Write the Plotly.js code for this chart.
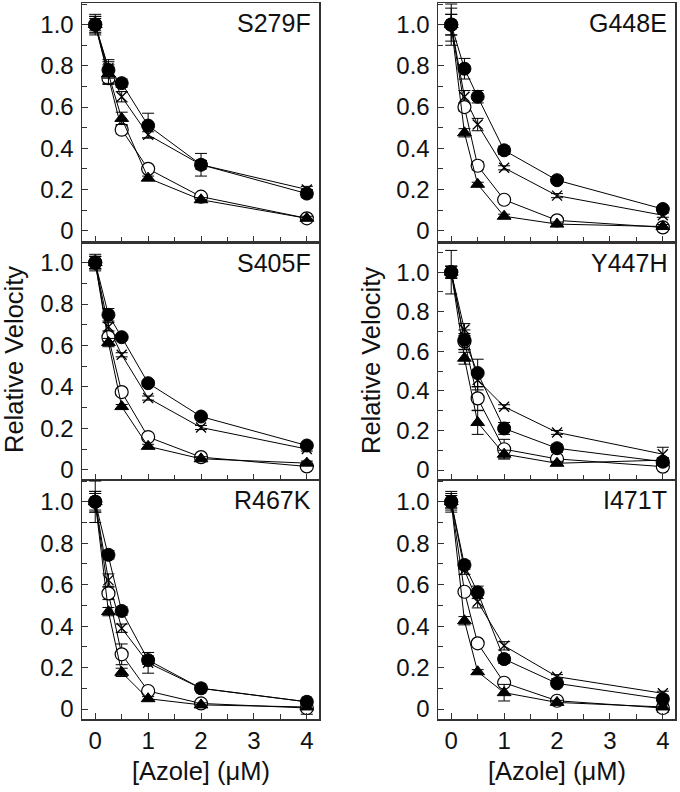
<!DOCTYPE html>
<html>
<head>
<meta charset="utf-8">
<script src="https://cdn.plot.ly/plotly-3.0.1.min.js"></script>
<style>html,body{margin:0;padding:0;background:#fff}#chart{width:680px;height:792px}</style>
</head>
<body>
<div id="chart"></div>
<script>
// Azole concentrations (µM)
const conc = [0, 0.25, 0.5, 1, 2, 4];
const panelNames = ["S279F", "G448E", "S405F", "Y447H", "R467K", "I471T"];
const seriesNames = ["filled circle", "open circle", "filled triangle", "cross"];

// Relative velocity per panel: [filled circle, open circle, filled triangle, cross]
const S279F_vals = [
  [1.0, 0.78, 0.716, 0.51, 0.32, 0.18],
  [1.0, 0.74, 0.49, 0.30, 0.165, 0.06],
  [1.0, 0.76, 0.545, 0.255, 0.15, 0.06],
  [1.0, 0.79, 0.65, 0.465, 0.32, 0.20]
];
const S279F_errs = [
  [0.04, 0.04, 0.02, 0.06, 0.055, 0.02],
  [0.03, 0.03, 0.02, 0.01, 0.01, 0.01],
  [0.04, 0.045, 0.03, 0.01, 0.01, 0.01],
  [0.05, 0.04, 0.025, 0.015, 0.02, 0.015]
];
const G448E_vals = [
  [1.0, 0.786, 0.65, 0.39, 0.245, 0.105],
  [1.0, 0.60, 0.315, 0.15, 0.05, 0.016],
  [1.0, 0.475, 0.225, 0.07, 0.032, 0.02],
  [1.0, 0.65, 0.515, 0.305, 0.17, 0.075]
];
const G448E_errs = [
  [0.05, 0.05, 0.03, 0.02, 0.01, 0.01],
  [0.08, 0.02, 0.02, 0.01, 0.01, 0.01],
  [0.05, 0.02, 0.01, 0.01, 0.01, 0.01],
  [0.1, 0.03, 0.03, 0.01, 0.01, 0.01]
];
const S405F_vals = [
  [1.0, 0.748, 0.64, 0.418, 0.257, 0.117],
  [1.0, 0.64, 0.375, 0.158, 0.061, 0.016],
  [1.0, 0.614, 0.305, 0.113, 0.053, 0.032],
  [1.0, 0.69, 0.555, 0.346, 0.204, 0.10]
];
const S405F_errs = [
  [0.03, 0.03, 0.01, 0.01, 0.01, 0.01],
  [0.03, 0.02, 0.01, 0.01, 0.01, 0.01],
  [0.03, 0.02, 0.01, 0.01, 0.01, 0.01],
  [0.04, 0.02, 0.01, 0.01, 0.01, 0.01]
];
const Y447H_vals = [
  [1.0, 0.658, 0.49, 0.21, 0.11, 0.042],
  [1.0, 0.65, 0.362, 0.105, 0.056, 0.017],
  [1.0, 0.565, 0.24, 0.08, 0.034, 0.05],
  [1.0, 0.71, 0.455, 0.32, 0.19, 0.08]
];
const Y447H_errs = [
  [0.11, 0.05, 0.07, 0.03, 0.02, 0.02],
  [0.03, 0.04, 0.06, 0.05, 0.01, 0.01],
  [0.03, 0.03, 0.06, 0.02, 0.01, 0.01],
  [0.03, 0.03, 0.05, 0.01, 0.01, 0.035]
];
const R467K_vals = [
  [1.0, 0.744, 0.473, 0.236, 0.10, 0.035],
  [1.0, 0.558, 0.264, 0.087, 0.027, 0.005],
  [1.0, 0.47, 0.177, 0.05, 0.02, 0.01],
  [1.0, 0.622, 0.39, 0.223, 0.10, 0.035]
];
const R467K_errs = [
  [0.05, 0.02, 0.02, 0.02, 0.01, 0.01],
  [0.05, 0.03, 0.05, 0.01, 0.01, 0.03],
  [0.04, 0.02, 0.02, 0.01, 0.01, 0.01],
  [0.1, 0.03, 0.02, 0.05, 0.01, 0.01]
];
const I471T_vals = [
  [1.0, 0.695, 0.563, 0.241, 0.124, 0.048],
  [1.0, 0.566, 0.317, 0.127, 0.04, 0.005],
  [1.0, 0.426, 0.18, 0.079, 0.032, 0.01],
  [1.0, 0.67, 0.518, 0.305, 0.156, 0.076]
];
const I471T_errs = [
  [0.05, 0.02, 0.03, 0.02, 0.01, 0.01],
  [0.04, 0.01, 0.01, 0.01, 0.01, 0.02],
  [0.03, 0.02, 0.01, 0.04, 0.01, 0.01],
  [0.03, 0.02, 0.03, 0.02, 0.01, 0.01]
];
const yTickVals = [0, 0.2, 0.4, 0.6, 0.8, 1.0];
const yTickText = ["0", "0.2", "0.4", "0.6", "0.8", "1.0"];
const xTickVals = [0, 1, 2, 3, 4];
const xTickText = ["0", "1", "2", "3", "4"];

const panelVals = [S279F_vals, G448E_vals, S405F_vals, Y447H_vals, R467K_vals, I471T_vals];
const panelErrs = [S279F_errs, G448E_errs, S405F_errs, Y447H_errs, R467K_errs, I471T_errs];

const W = 680, H = 792;
const colPx = [[82, 319], [438, 675]];
const rowPx = [[3, 242], [242.5, 479.5], [480, 719]];
const yRanges = [[-0.055, 1.105], [-0.055, 1.105], [-0.047, 1.097], [-0.048, 1.15], [-0.048, 1.105], [-0.048, 1.105]];
const FONT = "Liberation Sans, Arial, sans-serif";

const markerStyles = [
  {symbol: "circle", size: 13, color: "#000", line: {color: "#000", width: 1}},
  {symbol: "circle", size: 13, color: "#fff", line: {color: "#000", width: 1.2}},
  {symbol: "triangle-up", size: 12, color: "#000", line: {color: "#000", width: 1}},
  {symbol: "x-thin", size: 10, color: "#000", line: {color: "#000", width: 1.3}}
];
const drawOrder = [3, 1, 2, 0];

const traces = [];
const layout = {
  width: W, height: H,
  margin: {l: 0, r: 0, t: 0, b: 0},
  paper_bgcolor: "#fff", plot_bgcolor: "#fff",
  showlegend: false,
  font: {family: FONT, size: 24, color: "#111"},
  annotations: []
};

for (let p = 0; p < 6; p++) {
  const r = Math.floor(p / 2), c = p % 2;
  const sfx = p === 0 ? "" : String(p + 1);
  const xa = "x" + sfx, ya = "y" + sfx;
  layout["xaxis" + sfx] = {
    domain: [colPx[c][0] / W, colPx[c][1] / W],
    anchor: ya,
    range: [-0.25, 4.23],
    tickmode: "array", tickvals: xTickVals, ticktext: xTickText,
    showticklabels: r === 2,
    ticks: "inside", ticklen: 6, tickwidth: 1, tickcolor: "#333",
    minor: {tickmode: "array", tickvals: [0.5, 1.5, 2.5, 3.5], ticks: "inside", ticklen: 5, tickwidth: 1, tickcolor: "#333"},
    showline: true, mirror: true, linecolor: "#333", linewidth: 1.5,
    showgrid: false, zeroline: false,
    tickfont: {family: FONT, size: 24, color: "#111"},
    fixedrange: true
  };
  layout["yaxis" + sfx] = {
    domain: [1 - rowPx[r][1] / H, 1 - rowPx[r][0] / H],
    anchor: xa,
    range: yRanges[p],
    tickmode: "array", tickvals: yTickVals, ticktext: yTickText,
    ticks: "inside", ticklen: 6, tickwidth: 1, tickcolor: "#333",
    minor: {tickmode: "array", tickvals: [0.1, 0.3, 0.5, 0.7, 0.9, 1.1], ticks: "inside", ticklen: 5, tickwidth: 1, tickcolor: "#333"},
    showline: true, mirror: true, linecolor: "#333", linewidth: 1.5,
    showgrid: false, zeroline: false,
    tickfont: {family: FONT, size: 24, color: "#111"},
    ticklabelstandoff: 2,
    fixedrange: true
  };
  for (const s of drawOrder) {
    const m = markerStyles[s];
    traces.push({
      type: "scatter", mode: "lines+markers",
      x: conc, y: panelVals[p][s],
      xaxis: xa, yaxis: ya,
      name: seriesNames[s],
      line: {color: "#000", width: 1},
      marker: {symbol: m.symbol, size: m.size, color: m.color, line: m.line},
      error_y: {type: "data", array: panelErrs[p][s], visible: true, color: "#000", thickness: 1, width: 6},
      cliponaxis: false,
      hoverinfo: "skip"
    });
  }
  layout.annotations.push({
    xref: xa + " domain", yref: ya + " domain",
    x: 1, y: 1, xanchor: "right", yanchor: "middle",
    xshift: -6, yshift: -20,
    text: panelNames[p], showarrow: false,
    font: {family: FONT, size: 25, color: "#111"}
  });
}

// Axis titles
[14, 371].forEach(px => {
  layout.annotations.push({
    xref: "paper", yref: "paper",
    x: px / W, y: 1 - 360 / H, xanchor: "center", yanchor: "middle",
    textangle: -90, text: "Relative Velocity", showarrow: false,
    font: {family: FONT, size: 25.5, color: "#111"}
  });
});
[200.5, 556.5].forEach(px => {
  layout.annotations.push({
    xref: "paper", yref: "paper",
    x: px / W, y: 1 - 771 / H, xanchor: "center", yanchor: "middle",
    text: "[Azole] (μM)", showarrow: false,
    font: {family: FONT, size: 25.5, color: "#111"}
  });
});

Plotly.newPlot("chart", traces, layout, {displayModeBar: false, staticPlot: true});
</script>
</body>
</html>
